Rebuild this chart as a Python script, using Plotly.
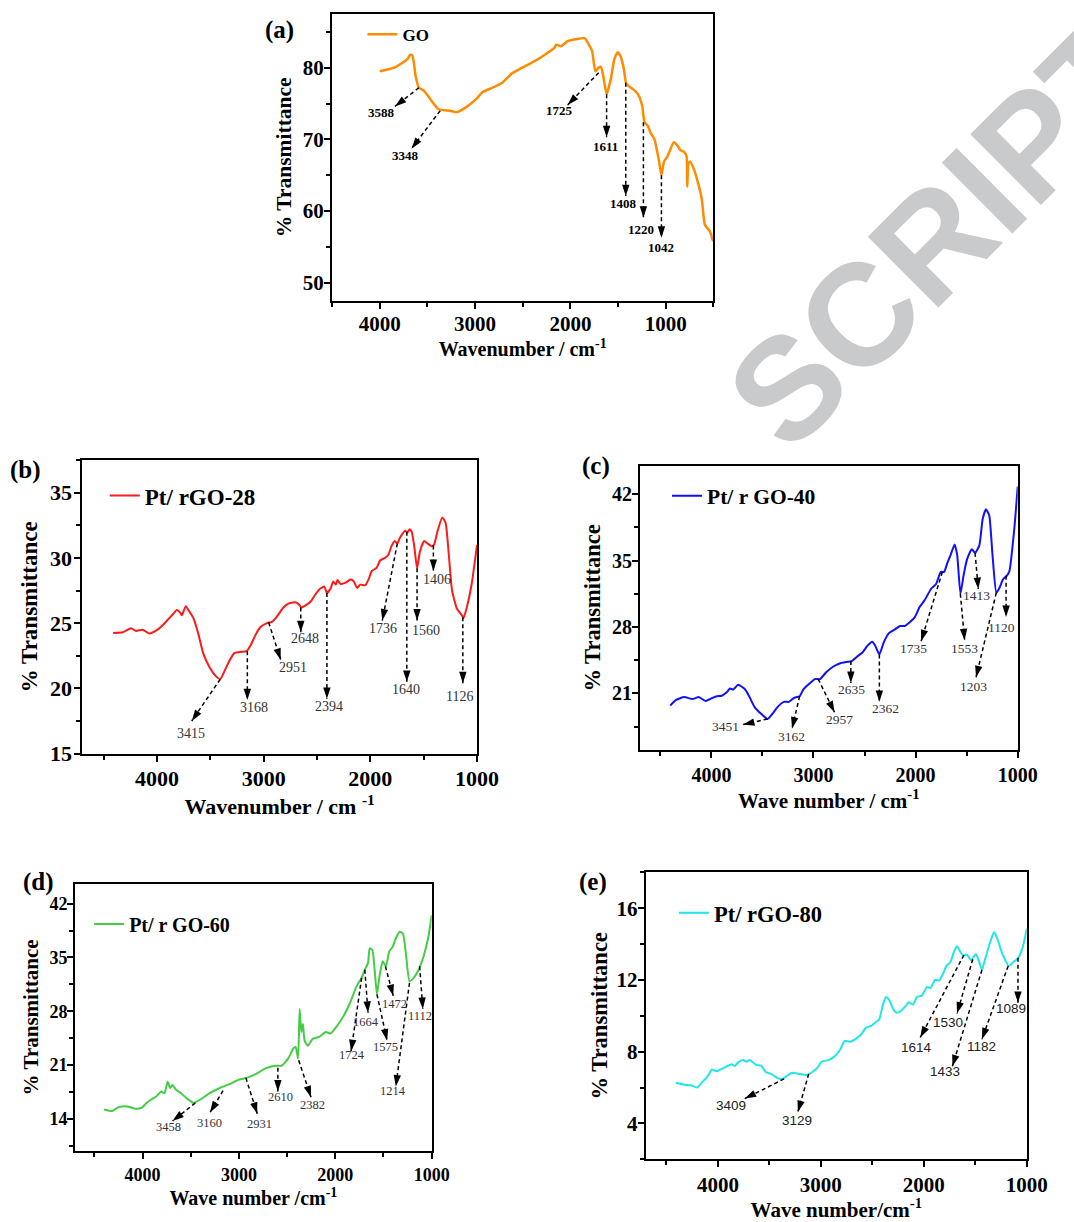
import math
import plotly.graph_objects as go

W, H = 1074, 1222

# ---------------- data ----------------
go_wn = [4000, 3846, 3709, 3681, 3657, 3623, 3589, 3537, 3469, 3383, 3263, 3194, 3092, 2989, 2920, 2817,
         2715, 2612, 2475, 2337, 2166, 2149, 2097, 2029, 1926, 1851, 1806, 1772, 1738, 1703, 1679, 1652,
         1620, 1576, 1539, 1504, 1474, 1439, 1412, 1343, 1292, 1247, 1223, 1189, 1155, 1120, 1069, 1045,
         1018, 983, 915, 880, 846, 802, 781, 774, 761, 743, 709, 675, 623, 589, 538, 503]
go_t = [79.5, 80.0, 81.2, 81.8, 81.7, 78.8, 77.2, 76.8, 75.6, 74.2, 74.0, 73.8, 74.5, 75.6, 76.6, 77.2,
        77.9, 79.2, 80.2, 81.2, 82.8, 83.2, 83.0, 83.7, 84.0, 84.1, 83.2, 82.3, 79.5, 80.0, 80.1, 78.6,
        76.3, 78.4, 81.2, 82.1, 81.6, 79.8, 77.7, 77.0, 76.3, 74.7, 72.4, 71.9, 70.8, 70.1, 66.9, 65.0,
        66.9, 67.6, 69.6, 69.2, 68.5, 68.2, 67.6, 63.4, 66.7, 66.9, 66.0, 64.6, 61.8, 58.1, 57.2, 55.8]

pt28_wn = [4411, 4319, 4243, 4196, 4135, 4074, 4012, 3951, 3905, 3859, 3813, 3782, 3767, 3730, 3705, 3659,
           3613, 3567, 3506, 3444, 3407, 3368, 3322, 3275, 3214, 3159, 3122, 3076, 3030, 2968, 2922, 2876,
           2815, 2769, 2708, 2677, 2646, 2600, 2554, 2523, 2477, 2431, 2407, 2370, 2348, 2324, 2308, 2278,
           2232, 2186, 2155, 2124, 2094, 2048, 2017, 1986, 1940, 1909, 1863, 1833, 1802, 1771, 1747, 1725,
           1694, 1673, 1655, 1633, 1612, 1587, 1562, 1535, 1495, 1464, 1427, 1403, 1372, 1326, 1295, 1265,
           1234, 1188, 1142, 1126, 1096, 1050, 1000]
pt28_t = [24.25, 24.3, 24.6, 24.4, 24.5, 24.2, 24.4, 24.8, 25.2, 25.6, 26.0, 25.8, 25.6, 26.3, 26.0, 25.4,
          24.2, 22.7, 21.6, 20.9, 20.7, 21.3, 22.1, 22.7, 22.8, 22.85, 23.3, 24.1, 24.7, 25.0, 25.1, 25.5,
          26.2, 26.5, 26.6, 26.5, 26.2, 26.4, 26.7, 27.1, 27.6, 27.8, 27.3, 27.7, 28.2, 27.95, 28.3, 28.0,
          28.1, 28.35, 28.2, 27.7, 27.95, 27.9, 28.35, 29.0, 29.25, 29.8, 30.0, 30.2, 30.9, 31.3, 31.1, 31.5,
          31.9, 32.1, 31.9, 32.2, 32.0, 30.8, 29.2, 30.5, 31.3, 31.1, 30.9, 31.0, 32.0, 33.1, 32.7, 30.3,
          27.5, 26.1, 25.6, 25.4, 26.2, 28.0, 31.0]

pt40_wn = [4403, 4346, 4266, 4186, 4122, 4058, 3994, 3946, 3898, 3850, 3818, 3786, 3738, 3673, 3626, 3577,
           3513, 3449, 3401, 3353, 3289, 3241, 3193, 3136, 3097, 3033, 2985, 2937, 2873, 2809, 2745, 2681,
           2624, 2569, 2521, 2473, 2425, 2399, 2355, 2313, 2265, 2201, 2153, 2105, 2057, 2009, 1961, 1913,
           1849, 1801, 1753, 1721, 1689, 1657, 1618, 1593, 1561, 1529, 1497, 1449, 1417, 1376, 1343, 1311,
           1279, 1247, 1209, 1177, 1145, 1106, 1081, 1033, 1000]
pt40_t = [19.7, 20.3, 20.6, 20.4, 20.6, 20.2, 20.5, 20.7, 20.75, 21.1, 21.5, 21.4, 21.9, 21.45, 20.6, 19.55,
          18.85, 18.3, 18.85, 19.55, 20.1, 20.1, 20.5, 20.7, 21.45, 22.1, 22.5, 22.5, 23.25, 23.8, 24.15, 24.3,
          24.4, 24.9, 25.3, 26.0, 26.45, 26.1, 25.1, 26.35, 27.3, 27.75, 28.1, 28.1, 28.5, 29.0, 30.1, 30.8,
          32.0, 32.5, 33.8, 33.8, 34.75, 35.6, 36.7, 35.6, 31.5, 33.5, 35.1, 36.2, 35.8, 36.6, 39.4, 40.4,
          39.75, 35.6, 31.6, 32.15, 33.0, 33.4, 33.9, 38.4, 42.8]

pt60_wn = [4399, 4315, 4247, 4162, 4078, 4010, 3959, 3909, 3858, 3807, 3773, 3740, 3713, 3689, 3655, 3604,
           3537, 3469, 3401, 3300, 3198, 3097, 2996, 2911, 2827, 2725, 2624, 2556, 2488, 2438, 2411, 2387,
           2370, 2353, 2336, 2319, 2285, 2235, 2167, 2100, 2049, 1981, 1913, 1846, 1778, 1727, 1694, 1660,
           1643, 1616, 1592, 1568, 1541, 1508, 1474, 1440, 1406, 1372, 1332, 1298, 1264, 1230, 1186, 1136,
           1085, 1034, 1000]
pt60_t = [15.2, 15.0, 15.5, 15.6, 15.3, 15.4, 16.05, 16.5, 16.9, 17.55, 17.3, 18.8, 18.0, 18.4, 17.8, 17.35,
          16.6, 16.05, 16.5, 17.35, 18.0, 18.5, 19.1, 19.35, 19.8, 20.55, 20.9, 20.9, 21.85, 23.1, 23.35, 21.85,
          28.3, 25.3, 26.35, 24.2, 23.5, 24.4, 24.65, 25.3, 25.1, 26.1, 27.4, 29.1, 31.3, 32.35, 33.4, 34.3,
          36.2, 36.0, 33.4, 30.2, 32.6, 34.5, 33.85, 35.8, 36.35, 37.5, 38.35, 38.1, 35.1, 31.9, 32.35, 33.4,
          35.1, 37.7, 40.5]

pt80_wn = [4408, 4328, 4264, 4201, 4153, 4105, 4057, 4010, 3962, 3914, 3866, 3834, 3803, 3755, 3723, 3691,
           3627, 3580, 3532, 3484, 3420, 3373, 3334, 3277, 3213, 3134, 3086, 3038, 2990, 2927, 2879, 2815,
           2768, 2720, 2656, 2608, 2561, 2513, 2465, 2433, 2401, 2369, 2338, 2296, 2264, 2226, 2178, 2146,
           2105, 2067, 2019, 1971, 1933, 1892, 1850, 1812, 1780, 1742, 1707, 1678, 1646, 1615, 1583, 1541,
           1494, 1462, 1436, 1398, 1360, 1318, 1287, 1239, 1175, 1127, 1086, 1041, 1000]
pt80_t = [6.26, 6.15, 6.12, 6.0, 6.3, 6.58, 7.0, 6.9, 7.04, 7.18, 7.3, 7.2, 7.4, 7.53, 7.44, 7.53,
          7.26, 7.22, 6.85, 6.76, 6.52, 6.48, 6.63, 6.82, 6.76, 6.7, 6.85, 7.07, 7.44, 7.53, 7.68, 8.09,
          8.6, 8.55, 8.73, 8.97, 9.34, 9.43, 9.65, 9.8, 10.53, 11.05, 10.9, 10.35, 10.17, 10.26, 10.53, 10.75,
          10.62, 11.05, 11.12, 11.6, 11.55, 12.0, 11.97, 12.37, 12.78, 13.0, 13.57, 13.88, 13.57, 13.35, 13.42, 13.1,
          13.44, 13.0, 12.56, 13.3, 14.03, 14.67, 14.3, 13.48, 12.78, 13.02, 13.2, 13.8, 14.86]

# peak labels and arrow geometry (wavenumber, %T)
a_peaks = ["3588", "3348", "1725", "1611", "1408", "1220", "1042"]
a_from = [(3589, 77.2), (3366, 74.0), (1703, 79.3), (1620, 76.3), (1419, 77.9), (1234, 72.4), (1045, 65.0)]
a_to = [(3840, 74.6), (3667, 68.7), (2029, 74.8), (1620, 70.3), (1419, 62.1), (1234, 59.1), (1045, 56.3)]
a_lab = [(3983, 73.7), (3726, 67.7), (2115, 74.0), (1628, 69.0), (1446, 61.1), (1264, 57.4), (1052, 54.9)]

b_peaks = ["3415", "3168", "2951", "2648", "2394", "1736", "1640", "1560", "1406", "1126"]
b_from = [(3407, 20.7), (3153, 22.85), (2953, 25.05), (2652, 26.2), (2407, 27.3), (1747, 31.1), (1658, 32.0),
          (1562, 29.2), (1409, 30.95), (1133, 25.45)]
b_to = [(3674, 17.5), (3153, 19.1), (2840, 22.2), (2652, 24.3), (2407, 19.2), (1888, 25.2), (1658, 20.5),
        (1562, 25.2), (1409, 29.0), (1133, 20.4)]
b_lab = [(3681, 16.55), (3091, 18.5), (2729, 21.6), (2609, 23.85), (2385, 18.6), (1885, 24.6), (1664, 19.9),
         (1480, 24.4), (1372, 28.35), (1163, 19.4)]

c_peaks = ["3451", "3162", "2957", "2635", "2362", "1735", "1553", "1413", "1203", "1120"]
c_from = [(3450, 18.3), (3136, 20.7), (2954, 22.5), (2634, 24.4), (2355, 25.1), (1738, 33.8), (1562, 31.5),
          (1418, 35.8), (1210, 31.6), (1114, 33.4)]
c_to = [(3690, 17.7), (3210, 17.3), (2794, 19.0), (2634, 22.1), (2355, 20.1), (1946, 26.5), (1520, 26.6),
        (1386, 32.0), (1408, 22.7), (1114, 29.05)]
c_lab = [(3866, 17.5), (3216, 16.5), (2746, 18.2), (2627, 21.4), (2291, 19.4), (2016, 25.7), (1520, 25.7),
         (1402, 31.3), (1434, 21.7), (1155, 27.9)]

d_peaks = ["3458", "3160", "2931", "2610", "2382", "1724", "1664", "1575", "1472", "1214", "1112"]
d_from = [(3452, 16.05), (3165, 17.65), (2928, 19.3), (2596, 20.65), (2380, 21.6), (1727, 32.35), (1694, 33.4),
          (1568, 30.2), (1480, 33.85), (1230, 31.7), (1125, 33.85)]
d_to = [(3689, 13.7), (3300, 14.8), (2810, 14.65), (2596, 17.55), (2252, 16.8), (1836, 22.8), (1660, 27.8),
        (1463, 24.2), (1399, 30.0), (1372, 18.2), (1091, 28.3)]
d_lab = [(3733, 12.9), (3310, 13.5), (2783, 13.3), (2566, 16.8), (2235, 15.75), (1829, 22.3), (1677, 26.6),
         (1484, 23.35), (1382, 28.9), (1406, 17.55), (1125, 27.4)]

e_peaks = ["3409", "3129", "1614", "1530", "1433", "1182", "1089"]
e_from = [(3357, 6.48), (3118, 6.76), (1611, 13.39), (1525, 13.15), (1436, 12.56), (1181, 12.78), (1086, 13.24)]
e_to = [(3739, 5.38), (3223, 4.64), (2035, 8.79), (1678, 10.13), (1723, 7.18), (1436, 8.69), (1086, 10.72)]
e_lab = [(3873, 4.97), (3236, 4.18), (2073, 8.23), (1764, 9.65), (1796, 6.89), (1436, 8.27), (1150, 10.39)]

watermark_text = "SCRIPT"

# ---------------- layout config ----------------
SERIF = "Liberation Serif"
SANS = "Liberation Sans"

panels = [
    dict(tag="(a)", wn=go_wn, t=go_t, name="GO", color="#ff8c00", lw=2.5,
         box=(339, 728.3, 14, 304), xr=[4500, 500], yr=[47.5, 87.5], ydt=10, ymin=5,
         peaks=a_peaks, frm=a_from, to=a_to, lab=a_lab, lab_font=dict(family=SERIF, size=13, weight="bold"),
         xtitle="Wavenumber / cm<sup>-1</sup>", tick=21, xt=20, yt=21.5, ysh=-4, xsh=-3, yst=5,
         legend=dict(x=370, y=35, size=17), tagpos=(285, 30)),
    dict(tag="(b)", wn=pt28_wn, t=pt28_t, name="Pt/ rGO-28", color="#ff1a1a", lw=2,
         box=(84, 487, 465, 761.7), xr=[4700, 1000], yr=[15, 37.5], ydt=5, ymin=2.5,
         peaks=b_peaks, frm=b_from, to=b_to, lab=b_lab, lab_font=dict(family=SERIF, size=14, color="#333333"),
         xtitle="Wavenumber / cm <sup>-1</sup>", tick=22, xt=22, yt=23, ysh=-2, xsh=-2, yst=6,
         legend=dict(x=107, y=501, size=23), tagpos=(26, 475)),
    dict(tag="(c)", wn=pt40_wn, t=pt40_t, name="Pt/ r GO-40", color="#1010ff", lw=2,
         box=(653.3, 1039, 470.7, 758.3), xr=[4700, 1000], yr=[15, 45], ydt=7, ymin=3.5,
         peaks=c_peaks, frm=c_from, to=c_to, lab=c_lab, lab_font=dict(family=SERIF, size=13.5, color="#333333"),
         xtitle="Wave number / cm<sup>-1</sup>", tick=20, xt=21, yt=22.5, ysh=-4, xsh=0, yst=5,
         legend=dict(x=681, y=501, size=21.5), tagpos=(608, 471)),
    dict(tag="(d)", wn=pt60_wn, t=pt60_t, name="Pt/ r GO-60", color="#44cc44", lw=2,
         box=(76.7, 440.7, 893.3, 1163.3), xr=[4700, 1000], yr=[9.8, 44.6], ydt=7, ymin=3.5,
         peaks=d_peaks, frm=d_from, to=d_to, lab=d_lab, lab_font=dict(family=SERIF, size=12.5, color="#333333"),
         xtitle="Wave number /cm<sup>-1</sup>", tick=18, xt=20, yt=21, ysh=-4, xsh=0, yst=5,
         legend=dict(x=91, y=934, size=20), tagpos=(39, 891)),
    dict(tag="(e)", wn=pt80_wn, t=pt80_t, name="Pt/ rGO-80", color="#1ee6ea", lw=2,
         box=(659.3, 1048.3, 881.7, 1171.7), xr=[4700, 1000], yr=[2, 18], ydt=4, ymin=2,
         peaks=e_peaks, frm=e_from, to=e_to, lab=e_lab, lab_font=dict(family=SANS, size=13.5, color="#222222"),
         xtitle="Wave number/cm<sup>-1</sup>", tick=21, xt=21, yt=22.5, ysh=-4, xsh=0, yst=3,
         legend=dict(x=688, y=923, size=22.5), tagpos=(605, 891)),
]

fig = go.Figure()
annotations = []

# watermark fragment (light grey, diagonal) - drawn first, in the empty top-right area
annotations.append(dict(text=watermark_text, x=962 / W, y=1 - 236 / H, xref="paper", yref="paper",
                        showarrow=False, textangle=-45, xanchor="center", yanchor="middle",
                        font=dict(family=SANS, size=145, color="#c9cacc", weight="bold")))

layout_axes = {}
for i, p in enumerate(panels):
    n = "" if i == 0 else str(i + 1)
    xa, ya = "x" + n, "y" + n
    lg = "legend" + n
    l, r, t, b = p["box"]
    dom_x = [l / W, r / W]
    dom_y = [1 - b / H, 1 - t / H]

    fig.add_trace(go.Scatter(x=p["wn"], y=p["t"], mode="lines", name=p["name"],
                             line=dict(color=p["color"], width=p["lw"], shape="spline", smoothing=0.5),
                             xaxis=xa, yaxis=ya, legend=lg, hoverinfo="skip"))

    # dashed arrow shafts
    dx, dy = [], []
    for (x0, y0), (x1, y1) in zip(p["frm"], p["to"]):
        dx += [x0, x1, None]
        dy += [y0, y1, None]
    fig.add_trace(go.Scatter(x=dx, y=dy, mode="lines", showlegend=False, hoverinfo="skip",
                             line=dict(color="black", width=1.5, dash="4px,3px"),
                             xaxis=xa, yaxis=ya))

    def to_px(x, y, p=p):
        l, r, t, b = p["box"]
        px = l + (x - p["xr"][0]) / (p["xr"][1] - p["xr"][0]) * (r - l)
        py = b - (y - p["yr"][0]) / (p["yr"][1] - p["yr"][0]) * (b - t)
        return px, py

    # arrowheads: 'arrow' marker has its tip on the point, rotated along the shaft
    angles = []
    for (x0, y0), (x1, y1) in zip(p["frm"], p["to"]):
        p0 = to_px(x0, y0)
        p1 = to_px(x1, y1)
        vx, vy = p1[0] - p0[0], p1[1] - p0[1]
        angles.append(math.degrees(math.atan2(vx, -vy)))
    fig.add_trace(go.Scatter(x=[q[0] for q in p["to"]], y=[q[1] for q in p["to"]], mode="markers",
                             showlegend=False, hoverinfo="skip", cliponaxis=False,
                             marker=dict(symbol="arrow", size=12, angle=angles, color="black",
                                         line=dict(width=0)),
                             xaxis=xa, yaxis=ya))

    for lab, (lx, ly) in zip(p["peaks"], p["lab"]):
        annotations.append(dict(x=lx, y=ly, xref=xa, yref=ya, text=lab, showarrow=False,
                                font=p["lab_font"], xanchor="center", yanchor="middle"))

    # panel tag
    annotations.append(dict(text=p["tag"], x=p["tagpos"][0] / W, y=1 - p["tagpos"][1] / H,
                            xref="paper", yref="paper", showarrow=False, xanchor="center", yanchor="middle",
                            font=dict(family=SERIF, size=25, weight="bold", color="black")))

    tickfont = dict(family=SERIF, size=p["tick"], weight="bold", color="black")
    xname = "xaxis" + n
    yname = "yaxis" + n
    layout_axes[xname] = dict(domain=dom_x, range=p["xr"], anchor=ya, showline=True, mirror=True,
                              linecolor="black", linewidth=2, ticks="outside", ticklen=6, tickwidth=2,
                              tickcolor="black", tick0=0, dtick=1000, tickfont=tickfont, showgrid=False,
                              zeroline=False, fixedrange=True, ticklabelstandoff=p["xsh"],
                              minor=dict(dtick=500, ticks="outside", ticklen=4, tickwidth=2, tickcolor="black",
                                         showgrid=False),
                              title=dict(text=p["xtitle"], standoff=2,
                                         font=dict(family=SERIF, size=p["xt"], weight="bold", color="black")))
    layout_axes[yname] = dict(domain=dom_y, range=p["yr"], anchor=xa, showline=True, mirror=True,
                              linecolor="black", linewidth=2, ticks="outside", ticklen=6, tickwidth=2,
                              tickcolor="black", tick0=0, dtick=p["ydt"], tickfont=tickfont, showgrid=False,
                              zeroline=False, fixedrange=True, ticklabelstandoff=p["ysh"],
                              minor=dict(dtick=p["ymin"], ticks="outside", ticklen=4, tickwidth=2,
                                         tickcolor="black", showgrid=False),
                              title=dict(text="% Transmittance", standoff=p["yst"],
                                         font=dict(family=SERIF, size=p["yt"], weight="bold", color="black")))
    lgd = p["legend"]
    layout_axes[lg] = dict(x=lgd["x"] / W, y=1 - lgd["y"] / H, xanchor="left", yanchor="middle",
                           bgcolor="rgba(0,0,0,0)", borderwidth=0, itemwidth=30,
                           font=dict(family=SERIF, size=lgd["size"], weight="bold", color="black"))

fig.update_layout(width=W, height=H, margin=dict(l=0, r=0, t=0, b=0, pad=0),
                  paper_bgcolor="white", plot_bgcolor="white", showlegend=True,
                  font=dict(family=SERIF, color="black"), annotations=annotations, **layout_axes)

fig.write_html("out.html")
